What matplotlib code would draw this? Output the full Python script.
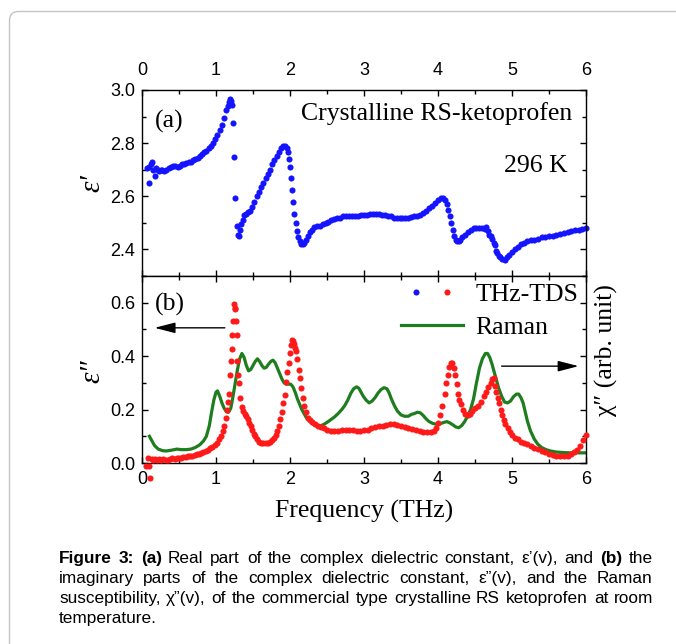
import numpy as np
import matplotlib
matplotlib.use("Agg")
import matplotlib.pyplot as plt
from matplotlib.lines import Line2D
from matplotlib.legend_handler import HandlerTuple
from matplotlib.patches import FancyBboxPatch
from matplotlib.ticker import MultipleLocator

# ---------------- data ----------------
freq_real = [0.07, 0.09, 0.10, 0.12, 0.14, 0.15, 0.17, 0.19, 0.21, 0.23, 0.25, 0.27, 0.30, 0.33, 0.36,
             0.39, 0.42, 0.45, 0.48, 0.51, 0.54, 0.57, 0.60, 0.63, 0.66, 0.69, 0.72, 0.75, 0.78, 0.81,
             0.84, 0.87, 0.90, 0.93, 0.96, 0.99, 1.02, 1.05, 1.08, 1.11, 1.14, 1.16, 1.18, 1.19, 1.205,
             1.215, 1.23, 1.245, 1.26, 1.28, 1.295, 1.31, 1.325, 1.34, 1.36, 1.38, 1.40, 1.43, 1.46, 1.49,
             1.52, 1.55, 1.58, 1.61, 1.64, 1.67, 1.70, 1.73, 1.76, 1.79, 1.82, 1.85, 1.88, 1.91, 1.935,
             1.955, 1.97, 1.985, 2.00, 2.015, 2.03, 2.045, 2.06, 2.075, 2.09, 2.11, 2.13, 2.15, 2.17, 2.19,
             2.21, 2.24, 2.27, 2.30, 2.33, 2.36, 2.40, 2.44, 2.48, 2.52, 2.56, 2.60, 2.64, 2.68, 2.72,
             2.76, 2.80, 2.84, 2.88, 2.92, 2.96, 3.00, 3.04, 3.08, 3.12, 3.16, 3.20, 3.24, 3.28, 3.32,
             3.36, 3.40, 3.44, 3.48, 3.52, 3.56, 3.60, 3.64, 3.68, 3.72, 3.76, 3.80, 3.84, 3.88, 3.92,
             3.96, 4.00, 4.04, 4.07, 4.10, 4.12, 4.14, 4.16, 4.18, 4.20, 4.22, 4.24, 4.26, 4.28, 4.30,
             4.33, 4.36, 4.40, 4.44, 4.48, 4.52, 4.56, 4.60, 4.63, 4.65, 4.67, 4.69, 4.71, 4.73, 4.75,
             4.77, 4.785, 4.80, 4.82, 4.84, 4.87, 4.90, 4.93, 4.96, 5.00, 5.04, 5.08, 5.12, 5.16, 5.20,
             5.25, 5.30, 5.35, 5.40, 5.45, 5.50, 5.55, 5.60, 5.65, 5.70, 5.75, 5.80, 5.85, 5.90, 5.95, 6.00]
eps_real = [2.705, 2.71, 2.65, 2.72, 2.73, 2.70, 2.675, 2.705, 2.70, 2.695, 2.70, 2.70, 2.695, 2.70, 2.705,
            2.71, 2.715, 2.715, 2.71, 2.715, 2.72, 2.72, 2.725, 2.73, 2.73, 2.735, 2.74, 2.745, 2.75, 2.76,
            2.765, 2.77, 2.78, 2.79, 2.80, 2.815, 2.83, 2.85, 2.87, 2.895, 2.925, 2.94, 2.955, 2.965, 2.96,
            2.945, 2.877, 2.747, 2.595, 2.49, 2.455, 2.45, 2.475, 2.495, 2.51, 2.53, 2.535, 2.54, 2.545, 2.56,
            2.58, 2.60, 2.615, 2.635, 2.65, 2.67, 2.685, 2.70, 2.72, 2.735, 2.75, 2.765, 2.78, 2.79, 2.79,
            2.78, 2.765, 2.74, 2.71, 2.67, 2.625, 2.58, 2.535, 2.50, 2.47, 2.445, 2.43, 2.42, 2.42, 2.425,
            2.435, 2.45, 2.465, 2.475, 2.485, 2.49, 2.49, 2.495, 2.50, 2.505, 2.51, 2.515, 2.52, 2.52, 2.525,
            2.525, 2.525, 2.525, 2.525, 2.527, 2.528, 2.53, 2.53, 2.532, 2.533, 2.533, 2.533, 2.53, 2.53, 2.527,
            2.525, 2.52, 2.518, 2.517, 2.517, 2.518, 2.52, 2.522, 2.524, 2.527, 2.53, 2.537, 2.545, 2.555, 2.565,
            2.575, 2.585, 2.593, 2.595, 2.585, 2.57, 2.55, 2.525, 2.50, 2.475, 2.45, 2.435, 2.43, 2.432, 2.437,
            2.445, 2.455, 2.465, 2.475, 2.48, 2.482, 2.482, 2.48, 2.478, 2.485, 2.47, 2.455, 2.45, 2.44, 2.425,
            2.415, 2.395, 2.385, 2.375, 2.37, 2.365, 2.362, 2.37, 2.38, 2.39, 2.40, 2.41, 2.42, 2.425, 2.43,
            2.435, 2.435, 2.44, 2.445, 2.445, 2.45, 2.452, 2.455, 2.458, 2.46, 2.465, 2.468, 2.472, 2.475, 2.478, 2.48]

freq_imag = [0.06, 0.08, 0.10, 0.11, 0.13, 0.15, 0.17, 0.20, 0.23, 0.26, 0.29, 0.32, 0.35, 0.38, 0.41,
             0.44, 0.47, 0.50, 0.53, 0.56, 0.59, 0.62, 0.65, 0.68, 0.71, 0.74, 0.77, 0.80, 0.83, 0.86,
             0.89, 0.92, 0.95, 0.98, 1.01, 1.04, 1.07, 1.09, 1.11, 1.13, 1.15, 1.165, 1.18, 1.19, 1.20,
             1.21, 1.22, 1.23, 1.24, 1.25, 1.26, 1.27, 1.28, 1.29, 1.30, 1.31, 1.33, 1.35, 1.37, 1.39,
             1.41, 1.43, 1.45, 1.47, 1.49, 1.51, 1.53, 1.55, 1.58, 1.61, 1.64, 1.67, 1.70, 1.73, 1.76,
             1.79, 1.81, 1.83, 1.85, 1.87, 1.89, 1.91, 1.93, 1.95, 1.965, 1.98, 1.995, 2.01, 2.025, 2.04,
             2.055, 2.07, 2.085, 2.10, 2.115, 2.13, 2.15, 2.17, 2.19, 2.21, 2.24, 2.27, 2.30, 2.34, 2.38,
             2.42, 2.46, 2.50, 2.55, 2.60, 2.65, 2.70, 2.75, 2.80, 2.85, 2.90, 2.95, 3.00, 3.05, 3.10,
             3.15, 3.20, 3.25, 3.30, 3.35, 3.40, 3.45, 3.50, 3.55, 3.60, 3.65, 3.70, 3.75, 3.80, 3.85,
             3.90, 3.94, 3.97, 4.00, 4.03, 4.06, 4.09, 4.11, 4.13, 4.15, 4.17, 4.19, 4.21, 4.23, 4.25,
             4.27, 4.29, 4.31, 4.34, 4.37, 4.40, 4.43, 4.46, 4.50, 4.54, 4.58, 4.62, 4.65, 4.68, 4.71,
             4.73, 4.75, 4.77, 4.79, 4.81, 4.83, 4.85, 4.87, 4.89, 4.91, 4.94, 4.97, 5.00, 5.04, 5.08,
             5.12, 5.16, 5.20, 5.25, 5.30, 5.35, 5.40, 5.45, 5.50, 5.55, 5.60, 5.65, 5.70, 5.75, 5.80,
             5.84, 5.88, 5.92, 5.96, 6.00]
eps_imag = [-0.01, 0.02, -0.01, -0.055, 0.015, 0.01, 0.015, 0.012, 0.015, 0.012, 0.015, 0.01, 0.012, 0.015, 0.018,
            0.015, 0.02, 0.018, 0.02, 0.022, 0.022, 0.025, 0.027, 0.028, 0.03, 0.032, 0.035, 0.038, 0.042, 0.045,
            0.05, 0.055, 0.06, 0.067, 0.075, 0.088, 0.10, 0.118, 0.14, 0.168, 0.20, 0.23, 0.26, 0.33, 0.38,
            0.425, 0.48, 0.53, 0.595, 0.58, 0.575, 0.53, 0.48, 0.38, 0.33, 0.30, 0.245, 0.21, 0.195, 0.185,
            0.175, 0.165, 0.15, 0.14, 0.125, 0.11, 0.10, 0.09, 0.08, 0.075, 0.073, 0.074, 0.076, 0.08, 0.085,
            0.095, 0.105, 0.12, 0.14, 0.165, 0.19, 0.225, 0.255, 0.305, 0.34, 0.375, 0.41, 0.44, 0.46, 0.455,
            0.445, 0.43, 0.42, 0.39, 0.35, 0.32, 0.28, 0.245, 0.215, 0.19, 0.17, 0.16, 0.152, 0.145, 0.14,
            0.135, 0.13, 0.125, 0.12, 0.118, 0.118, 0.122, 0.125, 0.125, 0.122, 0.12, 0.12, 0.122, 0.125, 0.13,
            0.133, 0.137, 0.14, 0.143, 0.145, 0.145, 0.142, 0.138, 0.135, 0.132, 0.128, 0.124, 0.12, 0.117, 0.115,
            0.115, 0.12, 0.13, 0.15, 0.18, 0.215, 0.26, 0.30, 0.33, 0.36, 0.375, 0.375, 0.355, 0.33, 0.295,
            0.26, 0.235, 0.22, 0.20, 0.185, 0.18, 0.185, 0.195, 0.205, 0.215, 0.23, 0.25, 0.265, 0.285, 0.30,
            0.315, 0.32, 0.29, 0.265, 0.245, 0.225, 0.20, 0.18, 0.16, 0.145, 0.13, 0.115, 0.105, 0.095, 0.088,
            0.08, 0.075, 0.07, 0.065, 0.058, 0.052, 0.045, 0.04, 0.035, 0.03, 0.028, 0.025, 0.025, 0.028, 0.032,
            0.04, 0.05, 0.065, 0.085, 0.105]

freq_raman = [0.10, 0.13, 0.17, 0.22, 0.28, 0.33, 0.40, 0.47, 0.53, 0.60, 0.66, 0.72, 0.78, 0.83, 0.87,
              0.91, 0.94, 0.97, 1.00, 1.02, 1.05, 1.08, 1.11, 1.14, 1.17, 1.20, 1.23, 1.26, 1.29, 1.32,
              1.35, 1.38, 1.41, 1.44, 1.47, 1.50, 1.53, 1.56, 1.59, 1.62, 1.65, 1.68, 1.71, 1.74, 1.77,
              1.80, 1.83, 1.86, 1.89, 1.92, 1.95, 1.98, 2.01, 2.04, 2.07, 2.10, 2.13, 2.16, 2.19, 2.22,
              2.26, 2.30, 2.34, 2.38, 2.42, 2.46, 2.50, 2.55, 2.60, 2.65, 2.70, 2.74, 2.78, 2.82, 2.86,
              2.90, 2.93, 2.96, 2.99, 3.03, 3.07, 3.11, 3.15, 3.19, 3.23, 3.27, 3.31, 3.34, 3.37, 3.41,
              3.45, 3.50, 3.55, 3.60, 3.64, 3.68, 3.72, 3.76, 3.80, 3.84, 3.88, 3.93, 3.98, 4.03, 4.08,
              4.12, 4.16, 4.20, 4.24, 4.28, 4.32, 4.36, 4.40, 4.44, 4.48, 4.52, 4.56, 4.60, 4.64, 4.67,
              4.70, 4.73, 4.76, 4.79, 4.82, 4.86, 4.90, 4.94, 4.98, 5.02, 5.06, 5.09, 5.12, 5.15, 5.18,
              5.21, 5.25, 5.30, 5.35, 5.40, 5.46, 5.52, 5.60, 5.70, 5.80, 5.90, 6.00]
chi_raman = [0.10, 0.085, 0.065, 0.052, 0.046, 0.045, 0.048, 0.052, 0.05, 0.05, 0.052, 0.058, 0.068, 0.082, 0.10,
             0.14, 0.19, 0.235, 0.265, 0.27, 0.25, 0.225, 0.205, 0.192, 0.19, 0.205, 0.25, 0.30, 0.35, 0.39,
             0.41, 0.395, 0.365, 0.345, 0.35, 0.365, 0.38, 0.39, 0.38, 0.365, 0.355, 0.358, 0.37, 0.38, 0.385,
             0.375, 0.355, 0.335, 0.315, 0.30, 0.295, 0.295, 0.295, 0.285, 0.265, 0.24, 0.22, 0.20, 0.185, 0.17,
             0.158, 0.148, 0.14, 0.138, 0.14, 0.145, 0.152, 0.162, 0.172, 0.185, 0.20, 0.215, 0.235, 0.26, 0.278,
             0.285, 0.28, 0.265, 0.25, 0.235, 0.225, 0.232, 0.245, 0.262, 0.275, 0.282, 0.278, 0.262, 0.24, 0.215,
             0.195, 0.18, 0.175, 0.175, 0.182, 0.185, 0.19, 0.188, 0.178, 0.165, 0.155, 0.148, 0.145, 0.147, 0.152,
             0.155, 0.15, 0.143, 0.135, 0.132, 0.14, 0.155, 0.175, 0.20, 0.24, 0.30, 0.355, 0.39, 0.41, 0.41,
             0.395, 0.37, 0.34, 0.31, 0.28, 0.25, 0.228, 0.225, 0.232, 0.248, 0.258, 0.258, 0.245, 0.225, 0.19,
             0.155, 0.12, 0.09, 0.07, 0.058, 0.05, 0.045, 0.041, 0.039, 0.038, 0.038, 0.038]

x_ticks = [0, 1, 2, 3, 4, 5, 6]
y_ticks_a = [2.4, 2.6, 2.8, 3.0]
y_ticks_b = [0.0, 0.2, 0.4, 0.6]

caption_lines = [
    "Figure 3: (a) Real part of the complex dielectric constant, \u03b5\u2019(v), and (b) the",
    "imaginary parts of the complex dielectric constant, \u03b5\u201d(v), and the Raman",
    "susceptibility, \u03c7\u201d(v),  of the commercial type crystalline RS ketoprofen at room",
    "temperature.",
]
bold_words = {"Figure", "3:", "(a)", "(b)"}

# ---------------- styling ----------------
W, H = 676, 644
plt.rcParams['font.family'] = ['Liberation Sans', 'DejaVu Sans']
plt.rcParams['mathtext.fontset'] = 'stix'
SERIF = ['Liberation Serif', 'DejaVu Serif']
BLUE = '#1414ff'
RED = '#ff1a1a'
GREEN = '#1e7d1e'
MS = 4.4

fig = plt.figure(figsize=(W / 100, H / 100), dpi=100)
fig.patch.set_facecolor('white')

# rounded frame around the figure
frame = FancyBboxPatch((9.5 / 100, -1.0), 10.0, (H - 11.5) / 100 + 1.0,
                       boxstyle="round,pad=0,rounding_size=0.09",
                       transform=fig.dpi_scale_trans, facecolor='none',
                       edgecolor='#c4c4c4', lw=1.0)
fig.patches.append(frame)

L = 142 / W
AW = (586 - 142) / W
ax_a = fig.add_axes([L, 1 - 276 / H, AW, 186 / H])
ax_b = fig.add_axes([L, 1 - 463 / H, AW, 187 / H])

for ax in (ax_a, ax_b):
    ax.set_xlim(0, 6)
    ax.xaxis.set_major_locator(MultipleLocator(1))
    ax.xaxis.set_minor_locator(MultipleLocator(0.5))
    ax.yaxis.set_minor_locator(MultipleLocator(0.1))
    ax.tick_params(which='both', direction='in', top=True, right=True, width=1.0,
                   labelsize=13)
    ax.tick_params(which='major', length=4.5)
    ax.tick_params(which='minor', length=3)
    for s in ax.spines.values():
        s.set_linewidth(1.0)

# panel (a)
ax_a.plot(freq_real, eps_real, 'o', color=BLUE, ms=MS, mec='none', clip_on=False)
ax_a.set_ylim(2.3, 3.0)
ax_a.set_yticks(y_ticks_a)
ax_a.set_yticklabels([f"{v:.1f}" for v in y_ticks_a])
ax_a.set_xticks(x_ticks)
ax_a.set_xticklabels([str(v) for v in x_ticks])
ax_a.tick_params(axis='x', labeltop=True, labelbottom=False, pad=8)
ax_a.tick_params(axis='y', pad=5)
ax_a.set_ylabel("\u03b5\u2032", fontsize=21, family=SERIF, style='italic')
ax_a.yaxis.set_label_coords(-0.083, 0.5)
ax_a.text(0.029, 0.796, "(a)", transform=ax_a.transAxes, fontsize=18.5, family=SERIF,
          ha='left', va='baseline')
ax_a.text(0.968, 0.839, "Crystalline RS-ketoprofen", transform=ax_a.transAxes,
          fontsize=18.5, family=SERIF, ha='right', va='baseline')
ax_a.text(0.959, 0.561, "296 K", transform=ax_a.transAxes, fontsize=18.5, family=SERIF,
          ha='right', va='baseline')

# panel (b)
ax_b.plot(freq_raman, chi_raman, '-', color=GREEN, lw=2.3, zorder=2)
ax_b.plot(freq_imag, eps_imag, 'o', color=RED, ms=MS, mec='none', clip_on=False, zorder=3)
ax_b.set_ylim(0.0, 0.7)
ax_b.set_yticks(y_ticks_b)
ax_b.set_yticklabels([f"{v:.1f}" for v in y_ticks_b])
ax_b.set_xticks(x_ticks)
ax_b.set_xticklabels([str(v) for v in x_ticks])
ax_b.tick_params(axis='x', pad=6)
ax_b.tick_params(axis='y', pad=5)
ax_b.set_ylabel("\u03b5\u2033", fontsize=21, family=SERIF, style='italic')
ax_b.yaxis.set_label_coords(-0.083, 0.49)
ax_b.set_xlabel("Frequency (THz)", fontsize=18.5, family=SERIF, labelpad=8)
ax_b.text(0.029, 0.814, "(b)", transform=ax_b.transAxes, fontsize=18.5, family=SERIF,
          ha='left', va='baseline')

# right-hand label for the Raman susceptibility
ax_b.text(1.02, 0.604, "\u03c7\u2033 (arb. unit)", transform=ax_b.transAxes,
          rotation=90, fontsize=18.5, family=SERIF, ha='left', va='center')

# arrows pointing to the axes
arrow_kw = dict(arrowstyle='-|>,head_length=0.7,head_width=0.18', color='black',
                lw=1.0, mutation_scale=18, shrinkA=0, shrinkB=0)
ax_b.annotate("", xy=(0.17, 0.506), xytext=(1.12, 0.506), arrowprops=arrow_kw)
ax_b.annotate("", xy=(5.9, 0.3625), xytext=(4.86, 0.3625), arrowprops=arrow_kw)

# legend
h_blue = Line2D([], [], ls='none', marker='o', color=BLUE, ms=MS, mec='none')
h_red = Line2D([], [], ls='none', marker='o', color=RED, ms=MS, mec='none')
h_green = Line2D([], [], color=GREEN, lw=2.3)
leg = ax_b.legend([(h_blue, h_red), h_green], ["THz-TDS", "Raman"],
                  handler_map={tuple: HandlerTuple(ndivide=None, pad=0.0)},
                  loc='upper left', bbox_to_anchor=(0.583, 0.965), borderpad=0,
                  borderaxespad=0, frameon=False, handlelength=2.4, handletextpad=0.5,
                  labelspacing=0.4, prop={'family': SERIF, 'size': 18.5})

# caption with justified lines
renderer = fig.canvas.get_renderer()
cap_size = 12.4
x0, x1 = 59, 653
baselines = [563, 583, 603, 623]
space_w = cap_size * 100 / 72 * 0.278
for i, line in enumerate(caption_lines):
    words = line.split()
    arts = []
    for w in words:
        t = fig.text(0, 1 - baselines[i] / H, w, fontsize=cap_size,
                     fontweight='bold' if w in bold_words else 'normal',
                     family=['Liberation Sans', 'DejaVu Sans'], ha='left', va='baseline')
        arts.append(t)
    widths = [t.get_window_extent(renderer=renderer).width for t in arts]
    if i < len(caption_lines) - 1 and len(arts) > 1:
        gap = max((x1 - x0 - sum(widths)) / (len(arts) - 1), 2.0)
    else:
        gap = space_w
    x = x0
    for t, w in zip(arts, widths):
        t.set_x(round(x) / W)
        x += w + gap

fig.savefig("out.png", dpi=100)
